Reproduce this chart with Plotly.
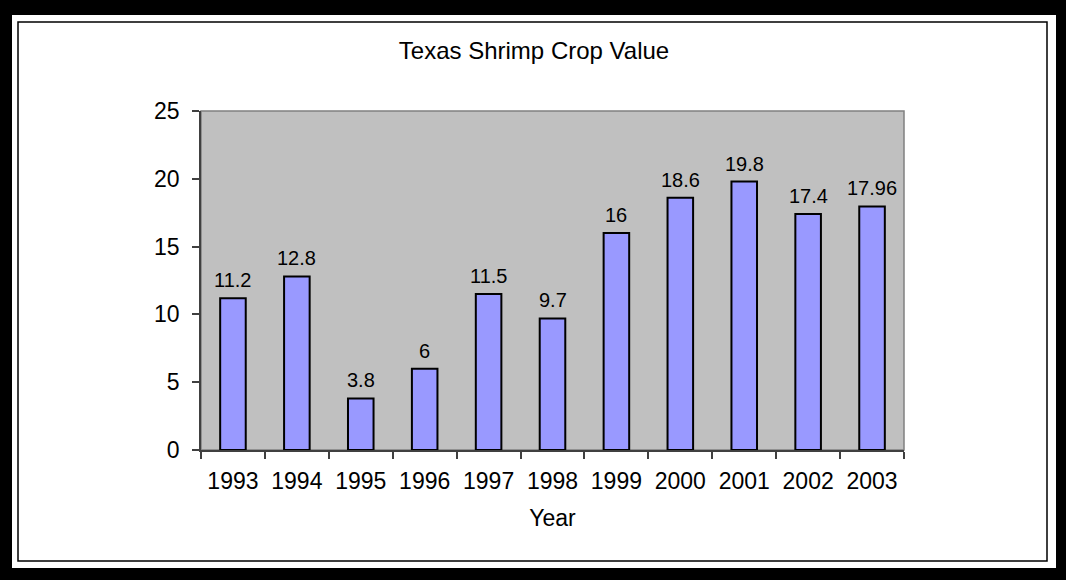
import plotly.graph_objects as go

# Texas shrimp crop value by year
years = ["1993", "1994", "1995", "1996", "1997", "1998", "1999", "2000", "2001", "2002", "2003"]
values = [11.2, 12.8, 3.8, 6, 11.5, 9.7, 16, 18.6, 19.8, 17.4, 17.96]
value_labels = ["11.2", "12.8", "3.8", "6", "11.5", "9.7", "16", "18.6", "19.8", "17.4", "17.96"]

W, H = 1066, 580
L, R, T, B = 201, 904, 111, 450  # plot area in pixels
pw, ph = R - L, B - T


def px_x(x):
    return (x - L) / pw


def px_y(y):
    return (B - y) / ph


FONT = "Liberation Sans, Arial, sans-serif"

fig = go.Figure()
fig.add_trace(go.Bar(
    x=years, y=values, width=0.4,
    marker=dict(color="#9999FF", line=dict(color="black", width=2)),
    hoverinfo="x+y",
))

# value labels above each bar (category index positions)
for i, (v, lab) in enumerate(zip(values, value_labels)):
    fig.add_annotation(x=i, y=v, xref="x", yref="y", text=lab, showarrow=False,
                       yanchor="bottom", yshift=5,
                       font=dict(size=20, color="black", family=FONT))

shapes = [
    # white card inside the black frame
    dict(type="rect", xref="paper", yref="paper", layer="below",
         x0=px_x(12), x1=px_x(1056), y0=px_y(568), y1=px_y(15),
         fillcolor="white", line=dict(width=0)),
    # thin chart border
    dict(type="rect", xref="paper", yref="paper", layer="below",
         x0=px_x(18), x1=px_x(1047), y0=px_y(561), y1=px_y(22),
         fillcolor="white", line=dict(color="black", width=1.5)),
    # plot area background and border
    dict(type="rect", xref="paper", yref="paper", layer="below",
         x0=0, x1=1, y0=0, y1=1,
         fillcolor="#C0C0C0", line=dict(color="#808080", width=1.5)),
]

fig.update_layout(
    width=W, height=H,
    margin=dict(l=L, r=W - R, t=T, b=H - B, pad=0),
    paper_bgcolor="black",
    plot_bgcolor="rgba(0,0,0,0)",
    showlegend=False,
    shapes=shapes,
    title=dict(text="Texas Shrimp Crop Value", x=px_x(534), xref="paper",
               xanchor="center", y=1 - 51 / H, yanchor="middle",
               font=dict(size=24, color="black", family=FONT)),
    font=dict(family=FONT, color="black"),
)

fig.update_xaxes(
    type="category", range=[-0.5, len(years) - 0.5], autorange=False,
    tickson="boundaries", ticks="outside", ticklen=7,
    tickcolor="#404040", tickwidth=1.5, tickangle=0,
    showline=True, linecolor="#404040", linewidth=1.5,
    showgrid=False, zeroline=False,
    tickfont=dict(size=23, color="black", family=FONT),
    ticklabelstandoff=10,
    title=dict(text="Year", font=dict(size=23, color="black", family=FONT), standoff=17),
)
fig.update_yaxes(
    range=[0, 25], autorange=False, dtick=5, ticks="outside", ticklen=7,
    tickcolor="#404040", tickwidth=1.5,
    showline=True, linecolor="#404040", linewidth=1.5,
    showgrid=False, zeroline=False,
    tickfont=dict(size=23, color="black", family=FONT),
    ticklabelstandoff=8,
)

fig.write_html("out.html")
